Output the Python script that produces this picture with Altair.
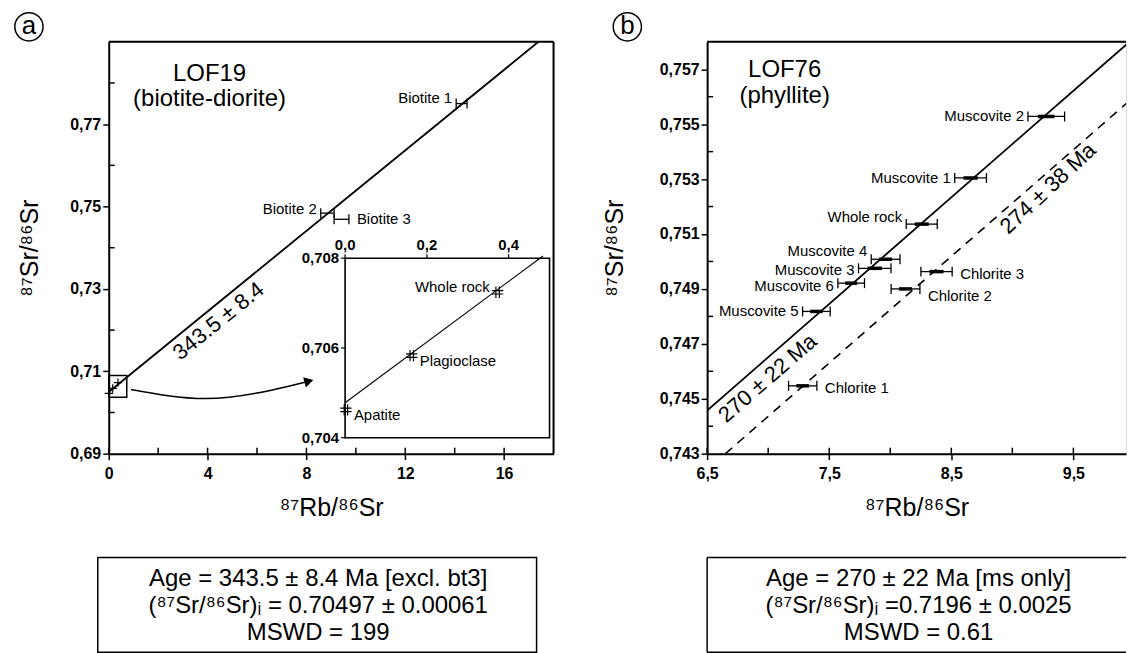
import altair as alt
import pandas as pd

FONT = "Liberation Sans, Arial, Helvetica, sans-serif"

# ================= panel (a): LOF19 =================
a_names = ["Biotite 1", "Biotite 2", "Biotite 3"]
a_x = [14.28, 8.85, 9.42]
a_y = [0.7750, 0.7484, 0.7469]
a_err = [0.22, 0.27, 0.30]
a_side = ["left", "left", "right"]

s_names = ["Apatite", "Plagioclase", "Whole rock"]
s_x = [0.002, 0.163, 0.373]
s_y = [0.70462, 0.70583, 0.70724]
s_side = ["right", "right", "left"]

iso_a_x = [0.0, 17.39]
iso_a_y = [0.70497, 0.79]
inset_line_x = [0.0, 0.484]
inset_line_y = [0.70478, 0.70805]
arrow_x = [0.9, 3.9, 8.1]
arrow_y = [0.7056, 0.7034, 0.7076]
zoom_box_x = [0.0, 0.73]
zoom_box_y = [0.7037, 0.7090]

a_xdomain = [0, 18]
a_ydomain = [0.69, 0.79]
in_xdomain = [0.0, 0.5]
in_ydomain = [0.704, 0.708]
a_xticks = [0, 4, 8, 12, 16]
a_xminor = [2, 6, 10, 14]
a_yticks = [0.69, 0.71, 0.73, 0.75, 0.77]
a_yminor = [0.70, 0.72, 0.74, 0.76, 0.78]
in_xticks = [0.0, 0.2, 0.4]
in_yticks = [0.704, 0.706, 0.708]

a_title = ["LOF19", "(biotite-diorite)"]
a_title_x = [4.08, 4.08]
a_title_y = [0.7822, 0.7762]
a_iso_label = ["343.5 ± 8.4"]
a_iso_label_x = [4.44]
a_iso_label_y = [0.7222]
a_box = ["Age = 343.5 ± 8.4 Ma [excl. bt3]",
         "(⁸⁷Sr/⁸⁶Sr)ᵢ = 0.70497 ± 0.00061",
         "MSWD = 199"]

# ================= panel (b): LOF76 =================
b_names = ["Muscovite 2", "Muscovite 1", "Whole rock", "Muscovite 4", "Muscovite 3",
           "Muscovite 6", "Muscovite 5", "Chlorite 1", "Chlorite 2", "Chlorite 3"]
b_x = [9.278, 8.658, 8.258, 7.962, 7.873, 7.680, 7.395, 7.283, 8.125, 8.379]
b_y = [0.75528, 0.75304, 0.75136, 0.75008, 0.74975, 0.74921, 0.74818, 0.74547, 0.74900, 0.74963]
b_err = [0.15, 0.13, 0.127, 0.118, 0.133, 0.109, 0.113, 0.116, 0.118, 0.128]
b_side = ["left"] * 7 + ["right"] * 3

iso_b_x = [6.5, 9.96]
iso_b_y = [0.74457, 0.758]
ref_b_x = [6.65, 10.0]
ref_b_y = [0.743, 0.75601]

b_xdomain = [6.5, 9.931]
b_ydomain = [0.743, 0.758]
b_xticks = [6.5, 7.5, 8.5, 9.5]
b_xminor = [7.0, 8.0, 9.0]
b_yticks = [0.743, 0.745, 0.747, 0.749, 0.751, 0.753, 0.755, 0.757]
b_yminor = [0.744, 0.746, 0.748, 0.750, 0.752, 0.754, 0.756]

b_title = ["LOF76", "(phyllite)"]
b_title_x = [7.135, 7.135]
b_title_y = [0.75696, 0.75601]
b_iso_labels = ["270 ± 22 Ma", "274 ± 38 Ma"]
b_iso_label_x = [6.996, 9.292]
b_iso_label_y = [0.74575, 0.75266]
b_box = ["Age = 270 ± 22 Ma [ms only]",
         "(⁸⁷Sr/⁸⁶Sr)ᵢ =0.7196 ± 0.0025",
         "MSWD = 0.61"]

# ---------------- styling / layout ----------------
W_A, W_B, H = 446, 420, 413
IN_XR = [237, 442]
IN_YR = [397, 217]
BOX_TOP, BOX_BOTTOM, BOX_LINE0, BOX_STEP = 517, 612, 539, 27
nudge_a = {"Biotite 1": -6, "Biotite 2": -4}
nudge_in = {"Whole rock": -5, "Plagioclase": 5, "Apatite": 5}
nudge_b = {"Whole rock": -7, "Muscovite 4": -8, "Muscovite 3": 2, "Muscovite 6": 3,
           "Chlorite 1": 2, "Chlorite 2": 7, "Chlorite 3": 2}


def sc(dom, rng=None):
    if rng is None:
        return alt.Scale(domain=dom, nice=False, zero=False)
    return alt.Scale(domain=dom, range=rng, nice=False, zero=False)


def make_axis(values, title, expr, is_y, title_pad):
    return alt.Axis(values=values, title=title, labelExpr=expr, grid=False,
                    domainColor="black", domainWidth=2, tickColor="black",
                    tickWidth=1.5, tickSize=6, labelFont=FONT, labelFontSize=16,
                    labelFontWeight="bold", labelColor="black",
                    labelPadding=2 if is_y else 6, labelOverlap=False, labelFlush=False,
                    titleFont=FONT, titleFontSize=25, titleFontWeight="normal",
                    titleColor="black", titlePadding=title_pad)


def err_df(names, xs, ys, errs, sides, nudge, ydom):
    df = pd.DataFrame({"name": names, "x": xs, "y": ys, "err": errs, "side": sides})
    df["lo"] = df.x - df.err
    df["hi"] = df.x + df.err
    df["tlo"] = df.x - 0.45 * df.err
    df["thi"] = df.x + 0.45 * df.err
    per_px = (ydom[1] - ydom[0]) / H
    df["ly"] = [y - nudge.get(n, 0) * per_px for n, y in zip(names, ys)]
    return df


def errbar_layers(df, X, Y, thick):
    base = alt.Chart(df)
    L = [base.mark_rule(color="black", strokeWidth=1.3).encode(x=X("lo"), x2="hi:Q", y=Y("y"))]
    if thick:
        L.append(base.mark_rule(color="black", strokeWidth=3.5).encode(x=X("tlo"), x2="thi:Q", y=Y("y")))
    for f in ["lo", "hi"]:
        L.append(base.mark_point(shape="M0,-1L0,1", size=100, color="black", strokeWidth=1.3,
                                 opacity=1).encode(x=X(f), y=Y("y")))
    L.append(base.transform_filter("datum.side == 'left'").mark_text(
        align="right", baseline="middle", dx=-4, font=FONT, fontSize=15, color="black"
    ).encode(x=X("lo"), y=Y("ly"), text="name:N"))
    L.append(base.transform_filter("datum.side == 'right'").mark_text(
        align="left", baseline="middle", dx=8, font=FONT, fontSize=15, color="black"
    ).encode(x=X("hi"), y=Y("ly"), text="name:N"))
    return L


def tick_layers(X, Y, xvals, yvals, xdom, ydom):
    dx = pd.DataFrame({"v": xvals, "b": [ydom[0]] * len(xvals)})
    dy = pd.DataFrame({"v": yvals, "b": [xdom[0]] * len(yvals)})
    return [
        alt.Chart(dx).mark_point(shape="M0,0L0,-1", size=144, color="black", strokeWidth=1.5,
                                 opacity=1).encode(x=X("v"), y=Y("b")),
        alt.Chart(dy).mark_point(shape="M0,0L1,0", size=144, color="black", strokeWidth=1.5,
                                 opacity=1).encode(x=X("b"), y=Y("v")),
    ]


def deco_layers(letter, box_lines, box_x, box_x2, text_x, closed, w, right_frame):
    one = pd.DataFrame({"k": [0]})
    L = [
        # plot frame: top (and right) edges
        alt.Chart(one).mark_rule(color="black", strokeWidth=2).encode(
            x=alt.value(0), x2=alt.value(w), y=alt.value(0)),
        alt.Chart(one).mark_point(shape="circle", size=800, color="black", strokeWidth=1.5,
                                  filled=False, opacity=1).encode(x=alt.value(-80), y=alt.value(-15)),
        alt.Chart(one).mark_text(font=FONT, fontSize=26, baseline="middle", align="center",
                                 dy=-1, color="black").encode(
            x=alt.value(-80), y=alt.value(-15), text=alt.value(letter)),
    ]
    if right_frame:
        L.append(alt.Chart(one).mark_rule(color="black", strokeWidth=2).encode(
            x=alt.value(w), y=alt.value(0), y2=alt.value(H)))
    if closed:
        L.append(alt.Chart(one).mark_rect(fill="white", stroke="black", strokeWidth=1.5).encode(
            x=alt.value(box_x), x2=alt.value(box_x2), y=alt.value(BOX_TOP), y2=alt.value(BOX_BOTTOM)))
    else:
        for yy in [BOX_TOP, BOX_BOTTOM]:
            L.append(alt.Chart(one).mark_rule(color="black", strokeWidth=1.5).encode(
                x=alt.value(box_x), x2=alt.value(box_x2), y=alt.value(yy)))
        L.append(alt.Chart(one).mark_rule(color="black", strokeWidth=1.5).encode(
            x=alt.value(box_x), y=alt.value(BOX_TOP), y2=alt.value(BOX_BOTTOM)))
    for i, t in enumerate(box_lines):
        L.append(alt.Chart(one).mark_text(font=FONT, fontSize=24, baseline="middle",
                                          align="center", color="black").encode(
            x=alt.value(text_x), y=alt.value(BOX_LINE0 + BOX_STEP * i), text=alt.value(t)))
    return L


# ================= build panel (a) =================
ax_ax = make_axis(a_xticks, "⁸⁷Rb/⁸⁶Sr", "format(datum.value, 'd')", False, 14)
ax_ay = make_axis(a_yticks, "⁸⁷Sr/⁸⁶Sr", "replace(format(datum.value, '.2f'), '.', ',')", True, 27)
XA = lambda f: alt.X(f + ":Q", scale=sc(a_xdomain), axis=ax_ax)
YA = lambda f: alt.Y(f + ":Q", scale=sc(a_ydomain), axis=ax_ay)

dfa = err_df(a_names, a_x, a_y, a_err, a_side, nudge_a, a_ydomain)
layers_a = [
    alt.Chart(pd.DataFrame({"x": iso_a_x, "y": iso_a_y})).mark_line(
        color="black", strokeWidth=1.8, clip=True).encode(x=XA("x"), y=YA("y")),
]
layers_a += errbar_layers(dfa, XA, YA, False)
layers_a += tick_layers(XA, YA, a_xticks + a_xminor, a_yminor, a_xdomain, a_ydomain)
layers_a += [
    alt.Chart(pd.DataFrame({"x": s_x, "y": s_y})).mark_point(
        shape="M-1,0L1,0M0,-1L0,1", size=70, color="black", strokeWidth=1.2, opacity=1
    ).encode(x=XA("x"), y=YA("y")),
    alt.Chart(pd.DataFrame({"x0": [zoom_box_x[0]], "x1": [zoom_box_x[1]],
                            "y0": [zoom_box_y[0]], "y1": [zoom_box_y[1]]})).mark_rect(
        fillOpacity=0, stroke="black", strokeWidth=1.5
    ).encode(x=XA("x0"), x2="x1:Q", y=YA("y0"), y2="y1:Q"),
    alt.Chart(pd.DataFrame({"x": arrow_x, "y": arrow_y})).mark_line(
        color="black", strokeWidth=1.5, interpolate="monotone").encode(x=XA("x"), y=YA("y")),
    alt.Chart(pd.DataFrame({"x": arrow_x[-1:], "y": arrow_y[-1:]})).mark_point(
        shape="triangle-right", size=110, filled=True, color="black", angle=345, opacity=1
    ).encode(x=XA("x"), y=YA("y")),
    alt.Chart(pd.DataFrame({"x": a_iso_label_x, "y": a_iso_label_y, "t": a_iso_label})).mark_text(
        angle=321, font=FONT, fontSize=22, baseline="middle", align="center", color="black"
    ).encode(x=XA("x"), y=YA("y"), text="t:N"),
    alt.Chart(pd.DataFrame({"x": a_title_x, "y": a_title_y, "t": a_title})).mark_text(
        font=FONT, fontSize=24, baseline="middle", align="center", color="black"
    ).encode(x=XA("x"), y=YA("y"), text="t:N"),
]
layers_a += deco_layers("a", a_box, -11, 429, 210, True, W_A, True)

# inset of panel (a)
XI = lambda f: alt.X(f + ":Q", scale=sc(in_xdomain, IN_XR), axis=None)
YI = lambda f: alt.Y(f + ":Q", scale=sc(in_ydomain, IN_YR), axis=None)
dfi = pd.DataFrame({"name": s_names, "x": s_x, "y": s_y, "side": s_side})
per_px_in = (in_ydomain[1] - in_ydomain[0]) / (IN_YR[0] - IN_YR[1])
dfi["ly"] = [y - nudge_in.get(n, 0) * per_px_in for n, y in zip(s_names, s_y)]
in_xt = pd.DataFrame({"v": in_xticks, "b": [in_ydomain[1]] * len(in_xticks),
                      "t": [f"{v:.1f}".replace(".", ",") for v in in_xticks]})
in_yt = pd.DataFrame({"v": in_yticks, "b": [in_xdomain[0]] * len(in_yticks),
                      "t": [f"{v:.3f}".replace(".", ",") for v in in_yticks]})
layers_in = [
    alt.Chart(pd.DataFrame({"x0": [in_xdomain[0]], "x1": [in_xdomain[1]],
                            "y0": [in_ydomain[0]], "y1": [in_ydomain[1]]})).mark_rect(
        fill="white", stroke="black", strokeWidth=1.6
    ).encode(x=XI("x0"), x2="x1:Q", y=YI("y0"), y2="y1:Q"),
    alt.Chart(pd.DataFrame({"x": inset_line_x, "y": inset_line_y})).mark_line(
        color="black", strokeWidth=1.1).encode(x=XI("x"), y=YI("y")),
    alt.Chart(dfi).mark_point(shape="M-1,-0.3L1,-0.3M-1,0.3L1,0.3M-0.3,-1L-0.3,1M0.3,-1L0.3,1",
                              size=130, color="black", strokeWidth=1.2, opacity=1
                              ).encode(x=XI("x"), y=YI("y")),
    alt.Chart(dfi).transform_filter("datum.side == 'left'").mark_text(
        align="right", baseline="middle", dx=-8, font=FONT, fontSize=15, color="black"
    ).encode(x=XI("x"), y=YI("ly"), text="name:N"),
    alt.Chart(dfi).transform_filter("datum.side == 'right'").mark_text(
        align="left", baseline="middle", dx=8, font=FONT, fontSize=15, color="black"
    ).encode(x=XI("x"), y=YI("ly"), text="name:N"),
    alt.Chart(in_xt).mark_point(shape="M0,0L0,-1", size=64, color="black", strokeWidth=1.2,
                                opacity=1).encode(x=XI("v"), y=YI("b")),
    alt.Chart(in_yt).mark_point(shape="M0,0L-1,0", size=64, color="black", strokeWidth=1.2,
                                opacity=1).encode(x=XI("b"), y=YI("v")),
    alt.Chart(in_xt).mark_text(baseline="bottom", align="center", dy=-5, font=FONT,
                               fontSize=15, fontWeight="bold", color="black"
                               ).encode(x=XI("v"), y=YI("b"), text="t:N"),
    alt.Chart(in_yt).mark_text(baseline="middle", align="right", dx=-6, font=FONT,
                               fontSize=15, fontWeight="bold", color="black"
                               ).encode(x=XI("b"), y=YI("v"), text="t:N"),
]

panel_a = alt.layer(alt.layer(*layers_a), alt.layer(*layers_in)).resolve_scale(
    x="independent", y="independent").properties(width=W_A, height=H)

# ================= build panel (b) =================
ax_bx = make_axis(b_xticks, "⁸⁷Rb/⁸⁶Sr", "replace(format(datum.value, '.1f'), '.', ',')", False, 14)
ax_by = make_axis(b_yticks, "⁸⁷Sr/⁸⁶Sr", "replace(format(datum.value, '.3f'), '.', ',')", True, 32)
XB = lambda f: alt.X(f + ":Q", scale=sc(b_xdomain), axis=ax_bx)
YB = lambda f: alt.Y(f + ":Q", scale=sc(b_ydomain), axis=ax_by)

dfb = err_df(b_names, b_x, b_y, b_err, b_side, nudge_b, b_ydomain)
layers_b = [
    alt.Chart(pd.DataFrame({"x": iso_b_x, "y": iso_b_y})).mark_line(
        color="black", strokeWidth=1.8, clip=True).encode(x=XB("x"), y=YB("y")),
    alt.Chart(pd.DataFrame({"x": ref_b_x, "y": ref_b_y})).mark_line(
        color="black", strokeWidth=1.6, strokeDash=[9, 7], clip=True).encode(x=XB("x"), y=YB("y")),
]
layers_b += errbar_layers(dfb, XB, YB, True)
layers_b += tick_layers(XB, YB, b_xticks + b_xminor, b_yminor, b_xdomain, b_ydomain)
layers_b += [
    alt.Chart(pd.DataFrame({"x": b_iso_label_x[:1], "y": b_iso_label_y[:1], "t": b_iso_labels[:1]})).mark_text(
        angle=319, font=FONT, fontSize=22, baseline="middle", align="center", color="black"
    ).encode(x=XB("x"), y=YB("y"), text="t:N"),
    alt.Chart(pd.DataFrame({"x": b_iso_label_x[1:], "y": b_iso_label_y[1:], "t": b_iso_labels[1:]})).mark_text(
        angle=317, font=FONT, fontSize=22, baseline="middle", align="center", color="black"
    ).encode(x=XB("x"), y=YB("y"), text="t:N"),
    alt.Chart(pd.DataFrame({"x": b_title_x, "y": b_title_y, "t": b_title})).mark_text(
        font=FONT, fontSize=24, baseline="middle", align="center", color="black"
    ).encode(x=XB("x"), y=YB("y"), text="t:N"),
]
layers_b += deco_layers("b", b_box, 0, W_B, 212, False, W_B, False)

panel_b = alt.layer(*layers_b).properties(width=W_B, height=H)

chart = alt.hconcat(panel_a, panel_b, spacing=154, bounds="flush").properties(
    padding={"left": 3, "top": 0, "right": 0, "bottom": 0}
).configure_view(stroke=None).configure(font=FONT)

chart.save("out.html", embed_options={"renderer": "svg", "actions": False})
